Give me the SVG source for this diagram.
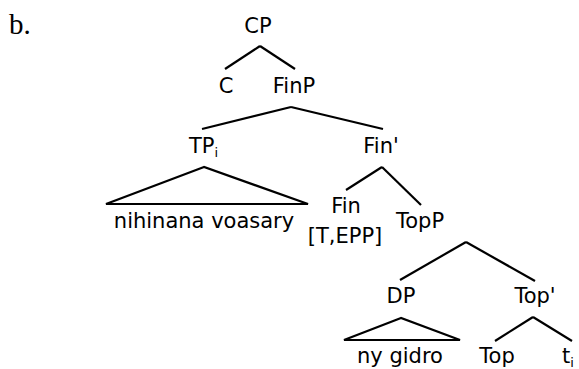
<svg xmlns="http://www.w3.org/2000/svg" width="579" height="369" viewBox="0 0 579 369">
<style>
text{font-family:"DejaVu Sans",sans-serif;font-size:21px;fill:#000;}
.m{text-anchor:middle;}
.sub{font-size:13px;}
.lbl{font-family:"Liberation Serif",serif;font-size:29px;}
#edges line,#edges polygon{stroke:#000;stroke-width:2.2;fill:none;stroke-linejoin:miter;}
</style>
<rect width="579" height="369" fill="#fff"/>
<text class="lbl" x="9" y="34">b.</text>
<g id="edges">
<line x1="260" y1="46" x2="225" y2="69"/>
<line x1="260" y1="46" x2="295" y2="69"/>
<line x1="291" y1="107" x2="202" y2="129"/>
<line x1="291" y1="107" x2="383" y2="129"/>
<polygon points="204,167 106,204 308,204"/>
<line x1="382" y1="167" x2="346" y2="190"/>
<line x1="382" y1="167" x2="421" y2="205"/>
<line x1="466" y1="242" x2="400" y2="280"/>
<line x1="466" y1="242" x2="535" y2="281"/>
<polygon points="401,318 344,340 460,340"/>
<line x1="533" y1="317" x2="495" y2="341"/>
<line x1="533" y1="317" x2="572" y2="341"/>
</g>
<g id="CP"><text class="m" x="258" y="33">CP</text></g>
<g id="C"><text class="m" x="226" y="93">C</text></g>
<g id="FinP"><text class="m" x="294" y="93">FinP</text></g>
<g id="TPi"><text x="189" y="153">TP<tspan class="sub" dy="4">i</tspan></text></g>
<g id="Finbar"><text class="m" x="381" y="153">Fin'</text></g>
<g id="TPterm"><text class="m" x="204" y="228">nihinana voasary</text></g>
<g id="Fin"><text class="m" x="346" y="213">Fin</text><text class="m" x="345" y="243">[T,EPP]</text></g>
<g id="TopP"><text class="m" x="420" y="228">TopP</text></g>
<g id="DP"><text class="m" x="401" y="303">DP</text></g>
<g id="Topbar"><text class="m" x="535" y="303">Top'</text></g>
<g id="DPterm"><text class="m" x="400" y="363">ny gidro</text></g>
<g id="Top"><text class="m" x="497" y="363">Top</text></g>
<g id="ti"><text x="562" y="363">t<tspan class="sub" dy="4">i</tspan></text></g>
</svg>
